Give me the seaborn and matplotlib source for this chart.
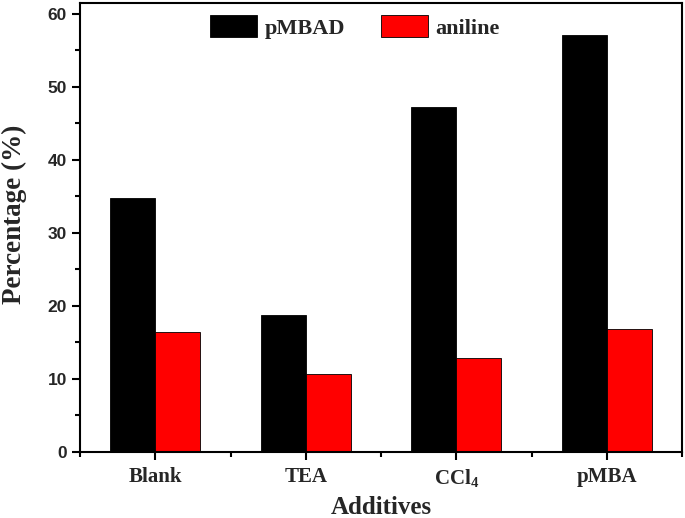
import pandas as pd
import numpy as np
import matplotlib
matplotlib.use('Agg')
import matplotlib.pyplot as plt
import seaborn as sns
from matplotlib.ticker import MultipleLocator, FixedLocator

# 数据
additives = ['Blank', 'TEA', 'CCl$_4$', 'pMBA']
series = ['pMBAD', 'aniline']
pmbad = [34.8, 18.7, 47.2, 57.1]
aniline = [16.4, 10.7, 12.9, 16.8]
colors = ['#000000', '#ff0000']

df = pd.DataFrame({
    'Additives': additives * 2,
    'Percentage': pmbad + aniline,
    'Series': [series[0]] * 4 + [series[1]] * 4,
})

sns.set_style('ticks')
plt.rcParams['mathtext.default'] = 'regular'

fig = plt.figure(figsize=(6.85, 5.18), dpi=100)
ax = fig.add_axes([80 / 685, 1 - 452 / 518, 602 / 685, 449 / 518])

sns.barplot(data=df, x='Additives', y='Percentage', hue='Series',
            palette=colors, width=0.6, edgecolor='black', linewidth=0.6,
            saturation=1, ax=ax)

ax.set_xlim(-0.5, 3.5)
ax.set_ylim(0, 61.5)
ax.yaxis.set_major_locator(MultipleLocator(10))
ax.yaxis.set_minor_locator(MultipleLocator(5))
ax.xaxis.set_minor_locator(FixedLocator([-0.5, 0.5, 1.5, 2.5, 3.5]))

for s in ax.spines.values():
    s.set_linewidth(1.5)
    s.set_color('black')
ax.tick_params(which='major', direction='out', length=6, width=1.5, color='black')
ax.tick_params(which='minor', direction='out', length=3.5, width=1.5, color='black')
ax.tick_params(axis='x', pad=5)

for lab in ax.get_yticklabels():
    lab.set_fontfamily('Liberation Sans')
    lab.set_fontweight('bold')
    lab.set_fontsize(12.5)
for lab in ax.get_xticklabels():
    lab.set_fontfamily('Liberation Serif')
    lab.set_fontweight('bold')
    lab.set_fontsize(15)

ax.set_xlabel('Additives', fontfamily='Liberation Serif', fontweight='bold', fontsize=18, labelpad=5)
ax.set_ylabel('Percentage (%)', fontfamily='Liberation Serif', fontweight='bold', fontsize=19.5)
ax.yaxis.set_label_coords(-0.088, 0.53)

leg = ax.legend(loc='center', bbox_to_anchor=(0.457, 0.9465), ncol=2, frameon=False,
                handlelength=2.1, handleheight=1.1, columnspacing=1.6, handletextpad=0.35,
                prop={'family': 'Liberation Serif', 'weight': 'bold', 'size': 16})

fig.savefig('out.png', dpi=100)
